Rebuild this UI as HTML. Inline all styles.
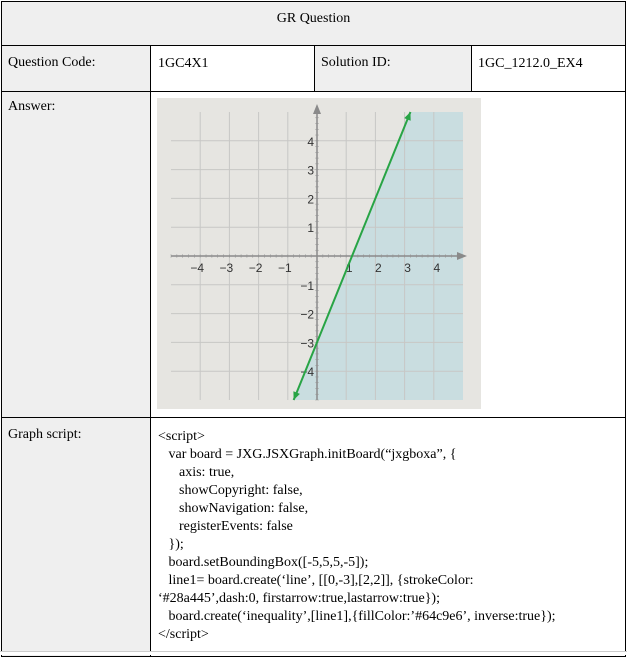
<!DOCTYPE html>
<html><head><meta charset="utf-8">
<style>
body{margin:0;width:627px;height:654px;background:#fff;font-family:"Liberation Serif","Times New Roman","DejaVu Serif",serif;font-size:14px;color:#000;position:relative;overflow:hidden}
.c{position:absolute;box-sizing:border-box;border:1px solid #000}
.g{background:#efefef}
.t{position:absolute;white-space:pre;font-family:"Liberation Serif","Times New Roman","DejaVu Serif",serif;font-size:14px}
</style></head><body>
<div class="c g" style="left:1px;top:1px;width:625px;height:45px"></div>
<div class="t" style="left:0;width:627px;text-align:center;top:11px">GR Question</div>
<div class="c g" style="left:1px;top:45px;width:150px;height:47px"></div>
<div class="c" style="left:150px;top:45px;width:165px;height:47px"></div>
<div class="c g" style="left:314px;top:45px;width:158px;height:47px"></div>
<div class="c" style="left:471px;top:45px;width:155px;height:47px"></div>
<div class="t" style="left:8px;top:55px">Question Code:</div>
<div class="t" style="left:158px;top:56px">1GC4X1</div>
<div class="t" style="left:321px;top:55px">Solution ID:</div>
<div class="t" style="left:478px;top:56px">1GC_1212.0_EX4</div>
<div class="c g" style="left:1px;top:91px;width:150px;height:327px"></div>
<div class="c" style="left:150px;top:91px;width:476px;height:327px"></div>
<div class="t" style="left:8px;top:99px">Answer:</div>
<div class="c g" style="left:1px;top:417px;width:150px;height:240px"></div>
<div class="c" style="left:150px;top:417px;width:476px;height:240px"></div>
<div style="position:absolute;left:0;top:651px;width:627px;height:3px;background:#fff;border-top:1px solid #ccc"></div>
<div class="t" style="left:8px;top:427px">Graph script:</div>
<div class="t" style="left:158px;top:428px;line-height:18px">&lt;script&gt;
   var board = JXG.JSXGraph.initBoard(“jxgboxa”, {
      axis: true,
      showCopyright: false,
      showNavigation: false,
      registerEvents: false
   });
   board.setBoundingBox([-5,5,5,-5]);
   line1= board.create(‘line’, [[0,-3],[2,2]], {strokeColor:
‘#28a445’,dash:0, firstarrow:true,lastarrow:true});
   board.create(‘inequality’,[line1],{fillColor:’#64c9e6’, inverse:true});
&lt;/script&gt;</div>

<svg id="g" style="position:absolute;left:157px;top:98px" width="324" height="311">
<rect width="324" height="311" fill="#e6e5e1"/>
</svg>
<script>
const xTicks=[-4,-3,-2,-1,1,2,3,4];
const yTicks=[-4,-3,-2,-1,1,2,3,4];
const p1=[0,-3];
const p2=[2,2];
const bbox=[-5,5,5,-5];
const NS="http://www.w3.org/2000/svg";
const svg=document.getElementById('g');
const X0=14,X1=306,Y0=14,Y1=302;
const sx=v=>X0+(v-bbox[0])/(bbox[2]-bbox[0])*(X1-X0);
const sy=v=>Y0+(bbox[1]-v)/(bbox[1]-bbox[3])*(Y1-Y0);
function mk(t,a){const e=document.createElementNS(NS,t);for(const k in a)e.setAttribute(k,a[k]);svg.appendChild(e);return e;}
const m=(p2[1]-p1[1])/(p2[0]-p1[0]);
const xAt=y=>p1[0]+(y-p1[1])/m;
const sh=mk('polygon',{points:`${sx(xAt(bbox[1]))},${sy(bbox[1])} ${sx(bbox[2])},${sy(bbox[1])} ${sx(bbox[2])},${sy(bbox[3])} ${sx(xAt(bbox[3]))},${sy(bbox[3])}`,fill:'#c9dde0'});


xTicks.forEach(v=>{const l=mk('line',{x1:sx(v),x2:sx(v),y1:Y0,y2:Y1,stroke:'#c7c7c5','stroke-width':1});

});
yTicks.forEach(v=>{const l=mk('line',{x1:X0,x2:X1,y1:sy(v),y2:sy(v),stroke:'#c7c7c5','stroke-width':1});

});
for(let v=bbox[0];v<=bbox[2];v+=0.2){mk('line',{x1:sx(v),x2:sx(v),y1:sy(0)-2,y2:sy(0)+2,stroke:'#aaa','stroke-width':0.6});
mk('line',{y1:sy(v),y2:sy(v),x1:sx(0)-2,x2:sx(0)+2,stroke:'#aaa','stroke-width':0.6});}
const xa=mk('line',{x1:X0,x2:X1,y1:sy(0),y2:sy(0),stroke:'#8a8a8a','stroke-width':1.5});


const ya=mk('line',{x1:sx(0),x2:sx(0),y1:Y0,y2:Y1,stroke:'#8a8a8a','stroke-width':1.5});


mk('polygon',{points:`${X1+4},${sy(0)} ${X1-6},${sy(0)-4} ${X1-6},${sy(0)+4}`,fill:'#8a8a8a'});
mk('polygon',{points:`${sx(0)},${Y0-8} ${sx(0)-4},${Y0+2} ${sx(0)+4},${Y0+2}`,fill:'#8a8a8a'});
xTicks.forEach(v=>{const t=mk('text',{x:sx(v)+(v<0?-3:3),y:sy(0)+16,'font-size':12,'font-family':'Liberation Sans, sans-serif','text-anchor':'middle',fill:'#333'});t.textContent=v<0?'\u2212'+(-v):v;

});
yTicks.forEach(v=>{const t=mk('text',{x:sx(0)-3,y:sy(v)+5,'font-size':12,'font-family':'Liberation Sans, sans-serif','text-anchor':'end',fill:'#333'});t.textContent=v<0?'\u2212'+(-v):v;

});
const ax=sx(xAt(bbox[3])),ay=sy(bbox[3]),bx=sx(xAt(bbox[1])),by=sy(bbox[1]);
const ln=mk('line',{x1:ax,y1:ay,x2:bx,y2:by,stroke:'#28a445','stroke-width':2});


function arrow(x,y,dx,dy){const L=Math.hypot(dx,dy),ux=dx/L,uy=dy/L,px=-uy,py=ux;
mk('polygon',{points:`${x},${y} ${x-ux*8+px*3.5},${y-uy*8+py*3.5} ${x-ux*8-px*3.5},${y-uy*8-py*3.5}`,fill:'#28a445'});}
arrow(bx,by,bx-ax,by-ay);arrow(ax,ay,ax-bx,ay-by);
</script>
</body></html>
